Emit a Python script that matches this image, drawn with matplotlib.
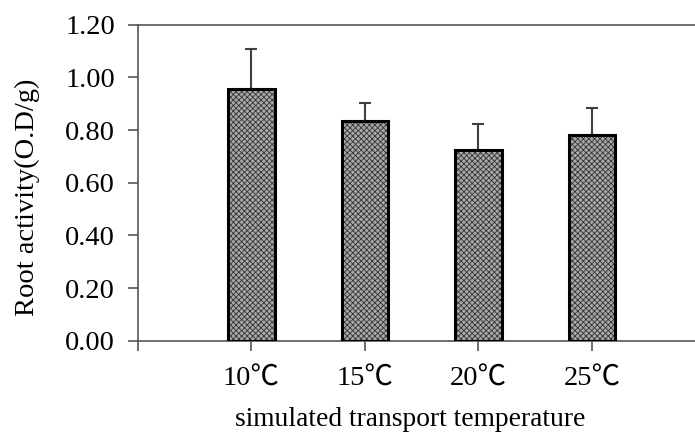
import matplotlib
matplotlib.use("Agg")
import matplotlib.pyplot as plt
import numpy as np

categories = ["10℃", "15℃", "20℃", "25℃"]
values = [0.955, 0.833, 0.724, 0.780]
errors = [0.152, 0.070, 0.099, 0.104]
yticks = [0.0, 0.2, 0.4, 0.6, 0.8, 1.0, 1.2]

plt.rcParams['font.family'] = ['Liberation Serif', 'Noto Sans CJK SC', 'DejaVu Sans']
plt.rcParams['hatch.linewidth'] = 0.6

fig = plt.figure(figsize=(6.95, 4.34), dpi=100)
ax = fig.add_axes([0.1986, 0.215, 0.8014, 0.728])

x = np.arange(1, len(categories) + 1)
ax.bar(x, values, width=0.41, color='#a8a8a8', edgecolor='#333333',
       hatch='xxxxxx', linewidth=0, zorder=2)
ax.bar(x, values, width=0.41, fill=False, edgecolor='black',
       linewidth=2.2, zorder=3)
ax.errorbar(x, values, yerr=[np.zeros(len(errors)), errors], fmt='none',
            ecolor='#404040', elinewidth=1.5, capsize=4.3, capthick=1.5,
            zorder=1)

ax.set_xlim(0, 4.91)
ax.set_ylim(0, 1.2)
ax.set_yticks(yticks)
ax.set_yticklabels([f"{v:.2f}" for v in yticks])
ax.set_xticks([0] + list(x))
ax.set_xticklabels([""] + categories)

for s in ['left', 'bottom', 'top']:
    ax.spines[s].set_color('#555555')
    ax.spines[s].set_linewidth(1.2)
ax.spines['right'].set_visible(False)
ax.tick_params(axis='both', direction='out', length=7.5, width=1.2,
               color='#555555', labelsize=20.5)
ax.tick_params(axis='y', pad=9)
ax.tick_params(axis='x', pad=11)

fig.text(27 / 695, 1 - 197 / 434, "Root activity(O.D/g)", rotation=90,
         ha='center', va='center', fontsize=20.5)
fig.text(410 / 695, 1 - 426 / 434, "simulated transport temperature",
         ha='center', va='baseline', fontsize=19.8)

fig.savefig("out.png", dpi=100)
